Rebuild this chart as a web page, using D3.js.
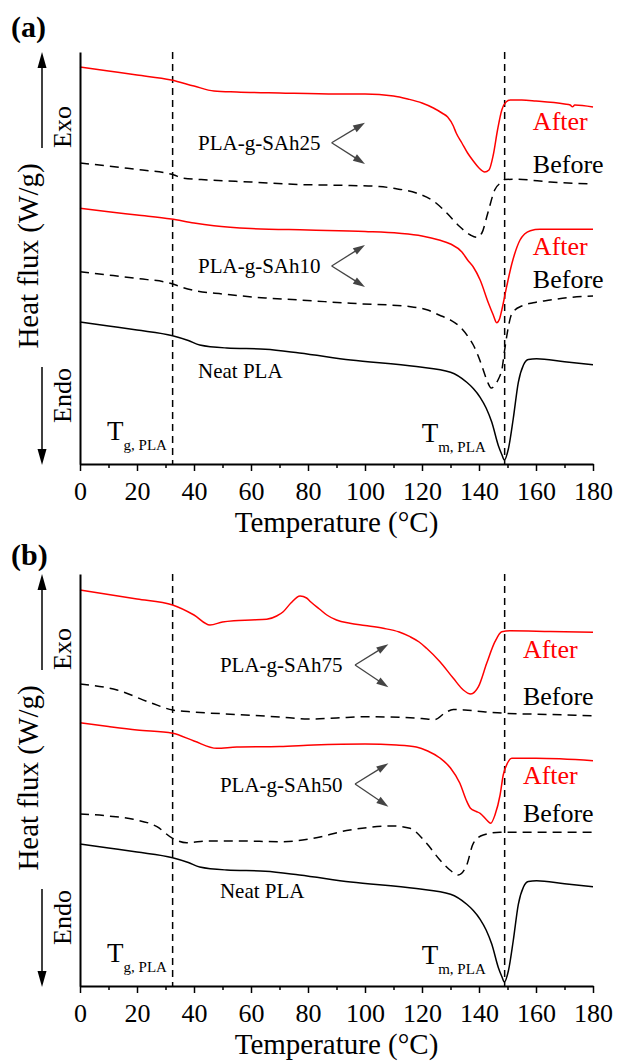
<!DOCTYPE html>
<html>
<head>
<meta charset="utf-8">
<script src="https://cdn.jsdelivr.net/npm/d3@7"></script>
<style>
  body { margin: 0; background: #fff; }
  svg { display: block; }
</style>
</head>
<body>
<svg id="chart" width="617" height="1061"></svg>
<script>
// DSC heating traces, [temperature (°C), heat flux offset (W/g, stacked)]
const tempTicks = [0, 20, 40, 60, 80, 100, 120, 140, 160, 180];
const tempMinorTicks = [10, 30, 50, 70, 90, 110, 130, 150, 170];
const tgPLA = 32.5;
const tmPLA = 149;

const neatPLA = [[0,1.42],[10,1.38],[20,1.34],[32.5,1.283],[38,1.235],[42,1.19],[51.5,1.16],[65,1.148],[77,1.11],[95,1.04],[118,0.975],[130,0.917],[135.7,0.817],[138,0.755],[140.4,0.667],[142.5,0.56],[144.5,0.417],[146.8,0.183],[148,0.095],[148.9,0.04],[150.3,0.15],[152,0.45],[153.8,0.817],[155.6,0.99],[157.3,1.045],[160.2,1.052],[170,1.022],[180,0.992]];

const sah25After = [[0,3.97],[10,3.93],[20,3.89],[32,3.84],[40,3.78],[47,3.73],[55,3.72],[70,3.71],[90,3.70],[100,3.70],[110,3.68],[115,3.65],[120,3.61],[124,3.56],[127,3.51],[129,3.47],[131,3.38],[132,3.31],[134,3.21],[136,3.11],[138,3.03],[140,2.96],[142,2.92],[143.5,2.94],[145,3.09],[146.5,3.34],[148,3.54],[149.5,3.62],[151,3.64],[155,3.64],[160,3.63],[170,3.60],[172,3.59],[172.8,3.572],[173.6,3.59],[180,3.57]];
const sah25Before = [[0,3.01],[10,2.98],[20,2.945],[30,2.91],[33,2.89],[36,2.86],[45,2.84],[60,2.82],[77,2.795],[95,2.785],[105,2.775],[110,2.757],[118,2.71],[124,2.63],[128.7,2.51],[133,2.38],[137,2.29],[139.2,2.267],[141,2.31],[143,2.50],[145.5,2.74],[148,2.82],[149,2.845],[153,2.847],[165,2.82],[180,2.80]];
const sah10After = [[0,2.557],[10,2.523],[20,2.49],[32,2.45],[40,2.41],[47,2.383],[60,2.355],[80,2.34],[100,2.325],[112,2.307],[120,2.28],[126,2.24],[130,2.20],[134,2.12],[136,2.04],[138,1.97],[140.4,1.84],[143.3,1.61],[145,1.49],[146.2,1.413],[147.2,1.45],[148,1.54],[149.7,1.773],[151.5,2.00],[152.5,2.10],[154.4,2.24],[156,2.30],[158,2.333],[161.4,2.347],[180,2.347]];
const sah10Before = [[0,1.923],[10,1.89],[20,1.855],[32,1.805],[36,1.765],[41,1.73],[50,1.70],[65,1.66],[77,1.64],[95,1.607],[116,1.573],[122,1.54],[126,1.49],[130,1.44],[133.3,1.373],[136,1.28],[138,1.19],[140,1.06],[141.5,0.94],[143,0.82],[144.3,0.76],[145.6,0.79],[147,0.86],[148,0.94],[149,1.14],[150.3,1.37],[151.3,1.49],[152.6,1.54],[155,1.58],[159,1.613],[165,1.64],[171,1.663],[180,1.68]];

const sah75After = [[0,3.96],[10,3.915],[20,3.87],[32.5,3.81],[40,3.71],[45.6,3.61],[50,3.64],[54,3.653],[60,3.66],[65.5,3.667],[69,3.70],[71.3,3.743],[74,3.83],[77.2,3.90],[79.5,3.88],[81,3.84],[84,3.77],[86.6,3.71],[90,3.66],[94.7,3.627],[100,3.605],[106.4,3.577],[112,3.54],[115.8,3.493],[119,3.44],[121.6,3.377],[126.3,3.243],[131,3.077],[134.5,2.96],[137.1,2.92],[139.8,2.993],[142.7,3.227],[145.6,3.443],[148,3.543],[150.9,3.553],[165,3.545],[180,3.537]];
const sah75Before = [[0,3.02],[13,2.96],[25,2.83],[32.5,2.76],[40,2.74],[55,2.715],[70,2.69],[80,2.67],[90,2.68],[100,2.693],[112,2.687],[120,2.675],[124.5,2.665],[128,2.73],[131,2.765],[135,2.76],[141.5,2.743],[149,2.727],[165,2.715],[180,2.703]];
const sah50After = [[0,2.633],[10,2.595],[20,2.56],[32.5,2.527],[40,2.45],[48,2.377],[55,2.39],[70,2.395],[82,2.41],[100,2.42],[111,2.41],[118,2.39],[122,2.35],[126.3,2.28],[130,2.18],[133.3,2.027],[135.5,1.86],[137,1.777],[139,1.745],[140.4,1.727],[142.7,1.66],[144.1,1.627],[145.6,1.71],[147.4,1.91],[148.5,2.11],[150,2.23],[151.5,2.277],[160,2.277],[180,2.253]];
const sah50Before = [[0,1.72],[10,1.70],[18.7,1.667],[27,1.593],[32.5,1.477],[37.4,1.433],[45,1.45],[55,1.45],[71,1.443],[80,1.467],[94.7,1.56],[110,1.60],[115.8,1.577],[121.6,1.427],[126.3,1.26],[129.8,1.16],[132.7,1.11],[135.7,1.21],[138,1.427],[141.5,1.51],[147.4,1.537],[180,1.537]];

// ---------------------------------------------------------------
const FONT = '"Liberation Serif", "Times New Roman", Times, serif';
const RED = '#ff0000';
const svg = d3.select('#chart');

const x = d3.scaleLinear().domain([0, 180]).range([80, 593]);

const panels = [
  {
    tag: '(a)', tagY: 37, top: 52, bottom: 464,
    traces: [
      { data: sah25After, color: RED, dashed: false },
      { data: sah25Before, color: '#000', dashed: true },
      { data: sah10After, color: RED, dashed: false },
      { data: sah10Before, color: '#000', dashed: true },
      { data: neatPLA, color: '#000', dashed: false }
    ],
    samples: [
      { name: 'PLA-g-SAh25', t: 41.4, v: 3.14, at: 88.3, av: 3.213, tipT: 100, up: 3.413, down: 3.0,
        after: 3.34, before: 2.913 },
      { name: 'PLA-g-SAh10', t: 41.4, v: 1.91, at: 88.3, av: 1.98, tipT: 100, up: 2.19, down: 1.77,
        after: 2.09, before: 1.757 }
    ],
    stateT: 158.9, neat: { t: 41.4, v: 0.857 }
  },
  {
    tag: '(b)', tagY: 565, top: 574, bottom: 986,
    traces: [
      { data: sah75After, color: RED, dashed: false },
      { data: sah75Before, color: '#000', dashed: true },
      { data: sah50After, color: RED, dashed: false },
      { data: sah50Before, color: '#000', dashed: true },
      { data: neatPLA, color: '#000', dashed: false }
    ],
    samples: [
      { name: 'PLA-g-SAh75', t: 49.1, v: 3.143, at: 96.5, av: 3.21, tipT: 108.2, up: 3.417, down: 2.987,
        after: 3.277, before: 2.81 },
      { name: 'PLA-g-SAh50', t: 49.1, v: 1.943, at: 96.5, av: 2.02, tipT: 108.2, up: 2.227, down: 1.793,
        after: 2.017, before: 1.637 }
    ],
    stateT: 155.4, neat: { t: 49.1, v: 0.877 }
  }
];

function arrow(g, x1, y1, x2, y2, len, hw, color, sw) {
  const a = Math.atan2(y2 - y1, x2 - x1);
  const bx = x2 - len * Math.cos(a), by = y2 - len * Math.sin(a);
  g.append('line')
    .attr('x1', x1).attr('y1', y1).attr('x2', bx + 2 * Math.cos(a)).attr('y2', by + 2 * Math.sin(a))
    .attr('stroke', color).attr('stroke-width', sw);
  const px = -Math.sin(a) * hw, py = Math.cos(a) * hw;
  g.append('path')
    .attr('d', `M${x2},${y2}L${bx + px},${by + py}L${bx - px},${by - py}Z`)
    .attr('fill', color);
}

panels.forEach(p => {
  const y = d3.scaleLinear().domain([0, 4.12]).range([p.bottom, p.bottom - 412]);
  const g = svg.append('g');

  // panel tag
  g.append('text').attr('x', 11).attr('y', p.tagY)
    .attr('font-family', FONT).attr('font-size', 30).attr('font-weight', 'bold')
    .text(p.tag);

  // reference temperatures
  [tgPLA, tmPLA].forEach(t => {
    g.append('line')
      .attr('x1', x(t)).attr('x2', x(t)).attr('y1', p.top).attr('y2', p.bottom)
      .attr('stroke', '#000').attr('stroke-width', 1.5).attr('stroke-dasharray', '7,5');
  });

  // traces
  const line = d3.line().x(d => x(d[0])).y(d => y(d[1])).curve(d3.curveMonotoneX);
  p.traces.forEach(tr => {
    g.append('path').datum(tr.data)
      .attr('d', line)
      .attr('fill', 'none')
      .attr('stroke', tr.color)
      .attr('stroke-width', 1.5)
      .attr('stroke-dasharray', tr.dashed ? '9,6' : null);
  });

  // axes
  const xAxis = g.append('g').attr('transform', `translate(0,${p.bottom})`)
    .call(d3.axisBottom(x).tickValues(tempTicks).tickSize(7).tickSizeOuter(0).tickPadding(0));
  xAxis.select('.domain').attr('stroke-width', 2);
  xAxis.selectAll('.tick line').attr('stroke-width', 1.5);
  xAxis.selectAll('.tick text')
    .attr('y', 36).attr('dy', 0)
    .attr('font-family', FONT).attr('font-size', 26).attr('fill', '#000');
  const minor = g.append('g').attr('transform', `translate(0,${p.bottom})`)
    .call(d3.axisBottom(x).tickValues(tempMinorTicks).tickSize(4).tickFormat(() => ''));
  minor.select('.domain').remove();
  minor.selectAll('.tick line').attr('stroke-width', 1.5);

  const yAxis = g.append('g').attr('transform', `translate(${x(0)},0)`)
    .call(d3.axisLeft(y).tickValues([]).tickSizeOuter(0));
  yAxis.select('.domain').attr('stroke-width', 2);

  // axis titles
  g.append('text')
    .attr('x', x(90)).attr('y', p.bottom + 68)
    .attr('text-anchor', 'middle')
    .attr('font-family', FONT).attr('font-size', 29)
    .text('Temperature (°C)');
  const mid = (p.top + p.bottom) / 2 - 2;
  g.append('text')
    .attr('transform', `translate(38,${mid}) rotate(-90)`)
    .attr('text-anchor', 'middle')
    .attr('font-family', FONT).attr('font-size', 29)
    .text('Heat flux (W/g)');

  // exo / endo direction
  g.append('text')
    .attr('transform', `translate(71,${p.top + 75}) rotate(-90)`)
    .attr('text-anchor', 'middle')
    .attr('font-family', FONT).attr('font-size', 26)
    .text('Exo');
  g.append('text')
    .attr('transform', `translate(71,${p.bottom - 68.5}) rotate(-90)`)
    .attr('text-anchor', 'middle')
    .attr('font-family', FONT).attr('font-size', 26)
    .text('Endo');
  arrow(g, 42, p.top + 96, 42, p.top, 16, 4.5, '#000', 1.5);
  arrow(g, 42, p.bottom - 97, 42, p.bottom + 1, 16, 4.5, '#000', 1.5);

  // Tg / Tm labels
  const tLabel = (t, v, sub) => {
    const txt = g.append('text').attr('x', x(t)).attr('y', y(v))
      .attr('font-family', FONT).attr('font-size', 27);
    txt.append('tspan').text('T');
    txt.append('tspan').attr('dy', 10).attr('font-size', 15).text(sub);
  };
  tLabel(9.5, 0.24, 'g, PLA');
  tLabel(119.9, 0.225, 'm, PLA');

  // sample names with before/after pointers
  p.samples.forEach(s => {
    g.append('text').attr('x', x(s.t)).attr('y', y(s.v))
      .attr('font-family', FONT).attr('font-size', 21)
      .text(s.name);
    arrow(g, x(s.at), y(s.av), x(s.tipT), y(s.up), 12, 3.8, '#444', 1.3);
    arrow(g, x(s.at), y(s.av), x(s.tipT), y(s.down), 12, 3.8, '#444', 1.3);
    g.append('text').attr('x', x(p.stateT)).attr('y', y(s.after))
      .attr('font-family', FONT).attr('font-size', 26).attr('fill', RED)
      .text('After');
    g.append('text').attr('x', x(p.stateT)).attr('y', y(s.before))
      .attr('font-family', FONT).attr('font-size', 26).attr('fill', '#000')
      .text('Before');
  });

  g.append('text').attr('x', x(p.neat.t)).attr('y', y(p.neat.v))
    .attr('font-family', FONT).attr('font-size', 21)
    .text('Neat PLA');
});
</script>
</body>
</html>
